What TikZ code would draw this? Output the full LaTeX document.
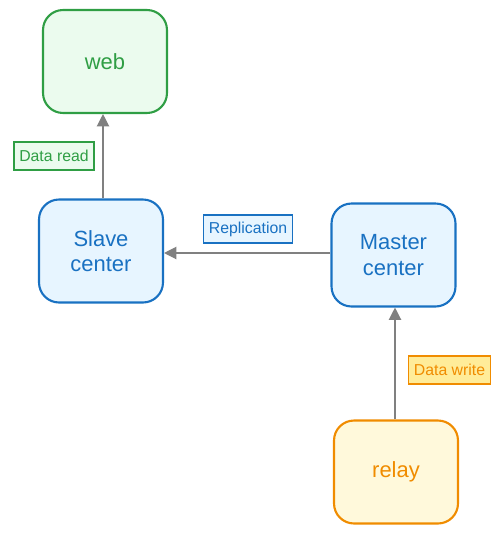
\documentclass[tikz,border=0pt]{standalone}
\usepackage{fontspec}
\setmainfont{Liberation Sans}
\usetikzlibrary{arrows.meta}
\definecolor{gline}{HTML}{2F9E44}
\definecolor{gfill}{HTML}{EBFBEE}
\definecolor{bline}{HTML}{1971C2}
\definecolor{bfill}{HTML}{E7F5FF}
\definecolor{oline}{HTML}{F08C00}
\definecolor{ofill}{HTML}{FFF9DB}
\definecolor{olabel}{HTML}{FFEC99}
\begin{document}
\begin{tikzpicture}
      [x=0.02cm, y=-0.02cm,
       main node/.style={rectangle, rounded corners=0.4cm, line width=1.2pt, minimum width=2.48cm, minimum height=2.06cm, align=center, font=\fontsize{12.5}{14.5}\selectfont},
       tag/.style={rectangle, line width=0.6pt, minimum height=0.56cm, inner xsep=3pt, font=\fontsize{9}{11}\selectfont},
       link/.style={draw=gray, line width=0.7pt, -{Triangle[length=7pt, width=7pt]}}]
      \useasboundingbox (0,0) rectangle (502,534);
      \node[main node, draw=gline, fill=gfill, text=gline] (web) at (105,61.5) {web};
      \node[main node, draw=bline, fill=bfill, text=bline] (slave) at (101,251) {Slave\\center};
      \node[main node, draw=bline, fill=bfill, text=bline] (master) at (393.5,255) {Master\\center};
      \node[main node, draw=oline, fill=ofill, text=oline] (relay) at (396,472) {relay};

      \node[tag, draw=gline, fill=gfill, text=gline] (read) at (54,156) {Data read};
      \node[tag, draw=bline, fill=bfill, text=bline] (repl) at (248,229) {Replication};
      \node[tag, draw=oline, fill=olabel, text=oline] (write) at (449.5,370) {Data write};

      \draw[link] (slave.north -| 103,0) -- (web.south -| 103,0);
      \draw[link] (master.west |- 0,253) -- (slave.east |- 0,253);
      \draw[link] (relay.north -| 395,0) -- (master.south -| 395,0);
   \end{tikzpicture}
\end{document}
